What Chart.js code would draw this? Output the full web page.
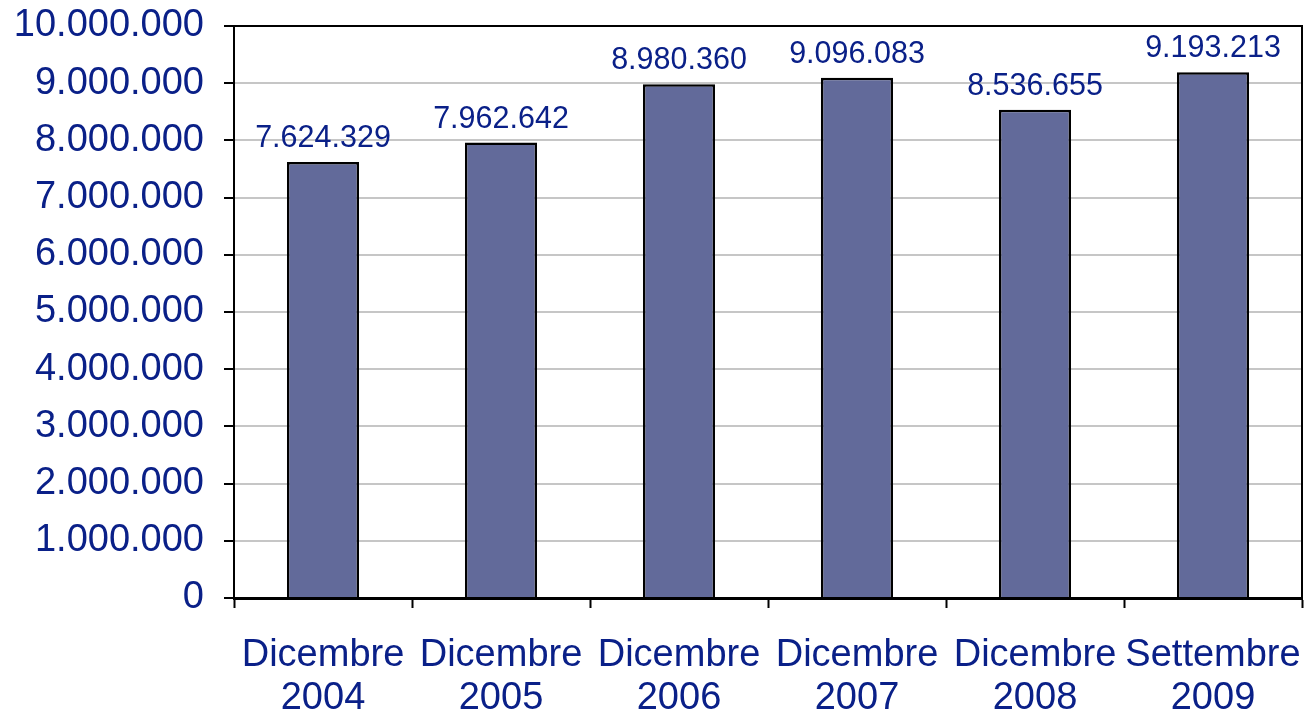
<!DOCTYPE html>
<html>
<head>
<meta charset="utf-8">
<script src="https://cdn.jsdelivr.net/npm/chart.js@4/dist/chart.umd.min.js"></script>
<style>
  html, body { margin: 0; padding: 0; background: #fff; }
  #wrap { width: 1305px; height: 714px; }
</style>
</head>
<body>
<div id="wrap"><canvas id="chart"></canvas></div>
<script>
// chart data
var months = ['Dicembre', 'Dicembre', 'Dicembre', 'Dicembre', 'Dicembre', 'Settembre'];
var years = ['2004', '2005', '2006', '2007', '2008', '2009'];
var values = [7624329, 7962642, 8980360, 9096083, 8536655, 9193213];
var yTicks = [0, 1000000, 2000000, 3000000, 4000000, 5000000, 6000000, 7000000, 8000000, 9000000, 10000000];

var navy = '#0a2088';
var fontFamily = 'Arial, "Liberation Sans", sans-serif';

// 1234567 -> 1.234.567
function fmt(n) {
    return String(n).replace(/\B(?=(\d{3})+(?!\d))/g, '.');
}

var labels = months.map(function(m, i) { return [m, years[i]]; });

// frame round the plot area + value labels over the bars
var extras = {
    id: 'extras',
    afterDraw: function(chart) {
        var ctx = chart.ctx;
        var area = chart.chartArea;
        ctx.save();
        ctx.strokeStyle = '#000';
        ctx.lineWidth = 2;
        ctx.beginPath();
        ctx.moveTo(area.left, area.top);
        ctx.lineTo(area.right, area.top);
        ctx.lineTo(area.right, area.bottom);
        ctx.stroke();

        ctx.fillStyle = navy;
        ctx.font = '30.5px ' + fontFamily;
        ctx.textAlign = 'center';
        ctx.textBaseline = 'alphabetic';
        chart.getDatasetMeta(0).data.forEach(function(bar, i) {
            ctx.fillText(fmt(values[i]), bar.x, bar.y - 15);
        });
        ctx.restore();
    }
};

var ctx = document.getElementById('chart').getContext('2d');
var chart = new Chart(ctx, {
    type: 'bar',
    data: {
        labels: labels,
        datasets: [{
            data: values,
            backgroundColor: '#626a9a',
            borderColor: '#000',
            borderWidth: 2.5,
            borderSkipped: 'bottom',
            barPercentage: 0.405,
            categoryPercentage: 1
        }]
    },
    options: {
        responsive: true,
        maintainAspectRatio: false,
        animation: false,
        layout: { padding: { top: 26, right: 3, left: 0, bottom: 0 } },
        plugins: {
            legend: { display: false },
            tooltip: { enabled: false }
        },
        scales: {
            x: {
                offset: true,
                grid: {
                    offset: true,
                    drawOnChartArea: false,
                    drawTicks: true,
                    tickLength: 10,
                    tickColor: '#000',
                    tickWidth: 2
                },
                border: { color: '#000', width: 3 },
                ticks: {
                    color: navy,
                    font: { family: fontFamily, size: 38, lineHeight: 1.14 },
                    padding: 26,
                    maxRotation: 0,
                    autoSkip: false
                },
                afterFit: function(scale) {
                    scale.height = 116;
                    scale.paddingLeft = 0;
                    scale.paddingRight = 0;
                }
            },
            y: {
                min: 0,
                max: 10000000,
                afterBuildTicks: function(scale) {
                    scale.ticks = yTicks.map(function(v) { return { value: v }; });
                },
                grid: {
                    color: '#c6c6c6',
                    lineWidth: 2,
                    tickLength: 10,
                    tickColor: '#000',
                    tickWidth: 2
                },
                border: { color: '#000', width: 2 },
                ticks: {
                    color: navy,
                    font: { family: fontFamily, size: 38 },
                    padding: 20,
                    callback: function(v) { return fmt(v); }
                },
                afterFit: function(scale) {
                    scale.width = 234;
                    scale.paddingTop = 0;
                    scale.paddingBottom = 0;
                }
            }
        }
    },
    plugins: [extras]
});
</script>
</body>
</html>
